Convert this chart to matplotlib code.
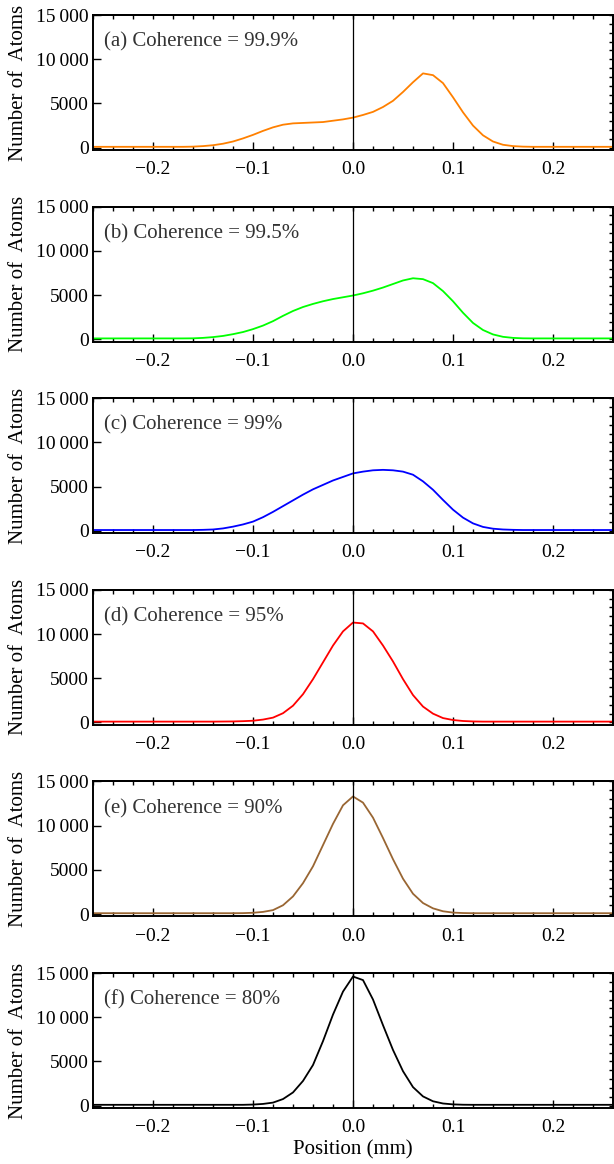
import numpy as np
import matplotlib
matplotlib.use('Agg')
import matplotlib.pyplot as plt
from matplotlib.ticker import MultipleLocator, FixedLocator

plt.rcParams['font.family'] = ['Liberation Serif', 'DejaVu Serif']
plt.rcParams['axes.unicode_minus'] = True

# positions (mm), 0.01 grid from -0.26 to 0.26
position = np.round(np.arange(-0.26, 0.2601, 0.01), 2)

atoms_a = ([100] * 10
           + [120, 180, 280, 450, 700, 1050, 1450, 1900, 2300, 2600, 2750, 2800, 2850, 2900, 3050, 3200]
           + [3400, 3700, 4050, 4600, 5300, 6300, 7400, 8400, 8200, 7300, 5700, 4000, 2500, 1400, 700, 330, 180, 120]
           + [100] * 9)
atoms_b = ([100] * 10
           + [110, 160, 250, 380, 580, 820, 1150, 1550, 2050, 2650, 3200, 3650, 4000, 4300, 4550, 4750]
           + [4950, 5200, 5500, 5850, 6250, 6650, 6900, 6800, 6350, 5450, 4300, 3000, 1850, 1050, 550, 280, 160, 110]
           + [100] * 9)
atoms_c = ([100] * 10
           + [100, 120, 160, 280, 480, 730, 1050, 1550, 2150, 2800, 3450, 4100, 4700, 5200, 5700, 6100]
           + [6500, 6700, 6850, 6900, 6850, 6700, 6350, 5600, 4650, 3500, 2400, 1500, 850, 450, 250, 160, 120, 100]
           + [100] * 9)
atoms_d = ([100] * 10
           + [100, 100, 100, 110, 120, 150, 200, 330, 550, 1050, 1900, 3200, 4900, 6800, 8700, 10300]
           + [11300, 11200, 10300, 8700, 6900, 4900, 3100, 1800, 1000, 500, 280, 170, 120, 100, 100, 100, 100, 100]
           + [100] * 9)
atoms_e = ([100] * 10
           + [100, 100, 100, 100, 100, 110, 150, 250, 450, 1000, 2000, 3500, 5400, 7800, 10200, 12300]
           + [13300, 12600, 10900, 8600, 6200, 4000, 2300, 1250, 650, 320, 170, 120, 100, 100, 100, 100, 100, 100]
           + [100] * 9)
atoms_f = ([100] * 10
           + [100, 100, 100, 100, 100, 100, 130, 200, 350, 750, 1500, 2800, 4600, 7300, 10300, 12900]
           + [14600, 14200, 12000, 9100, 6300, 3900, 2100, 1050, 500, 250, 150, 110, 100, 100, 100, 100, 100, 100]
           + [100] * 9)

series = [atoms_a, atoms_b, atoms_c, atoms_d, atoms_e, atoms_f]
labels = ['(a) Coherence = 99.9%', '(b) Coherence = 99.5%', '(c) Coherence = 99%',
          '(d) Coherence = 95%', '(e) Coherence = 90%', '(f) Coherence = 80%']
colors = ['#ff8000', '#00ff00', '#0000ff', '#ff0000', '#996633', '#000000']

xticks = [-0.2, -0.1, 0.0, 0.1, 0.2]
xticklabels = ['\u22120.2', '\u22120.1', '0.0', '0.1', '0.2']
yticks = [0, 5000, 10000, 15000]
yticklabels = ['0', '5000', '10\u2009000', '15\u2009000']

W, H = 614, 1164
fig = plt.figure(figsize=(W / 100, H / 100), dpi=100)

left, width, height = 93, 520, 135
for i in range(6):
    top = 15 + i * 191.6
    ax = fig.add_axes([left / W, 1 - (top + height) / H, width / W, height / H])
    ax.plot(position, series[i], color=colors[i], lw=1.3)
    ax.axvline(0, color='k', lw=0.9)
    ax.set_xlim(-0.26, 0.26)
    ax.set_ylim(-260, 15000)

    ax.xaxis.set_major_locator(FixedLocator(xticks))
    ax.set_xticklabels(xticklabels)
    ax.xaxis.set_minor_locator(MultipleLocator(0.02))
    ax.yaxis.set_major_locator(FixedLocator(yticks))
    ax.set_yticklabels(yticklabels)
    ax.tick_params(which='both', direction='in', labelsize=14, colors='k', width=1.0)
    ax.tick_params(which='major', length=6)
    ax.tick_params(which='minor', length=3)
    ax.tick_params(axis='x', pad=8)
    ax.tick_params(axis='y', pad=3)

    top_ax = ax.secondary_xaxis('top')
    top_ax.xaxis.set_major_locator(MultipleLocator(0.02))
    top_ax.tick_params(direction='in', length=3, width=1.0, labeltop=False)
    right_ax = ax.secondary_yaxis('right')
    right_ax.yaxis.set_major_locator(MultipleLocator(1000))
    right_ax.tick_params(direction='in', length=3, width=1.0, labelright=False)

    for sp in list(ax.spines.values()) + [top_ax.spines['top'], right_ax.spines['right']]:
        sp.set_linewidth(1.4)

    ax.text(0.022, 0.80, labels[i], transform=ax.transAxes, fontsize=15,
            color='#333333', va='center', ha='left')
    ax.set_ylabel('Number of  Atoms', fontsize=15)
    ax.yaxis.set_label_coords(-0.125, 0.5)

    if i == 5:
        ax.set_xlabel('Position (mm)', fontsize=15, labelpad=3)

fig.savefig('out.png', dpi=100)
